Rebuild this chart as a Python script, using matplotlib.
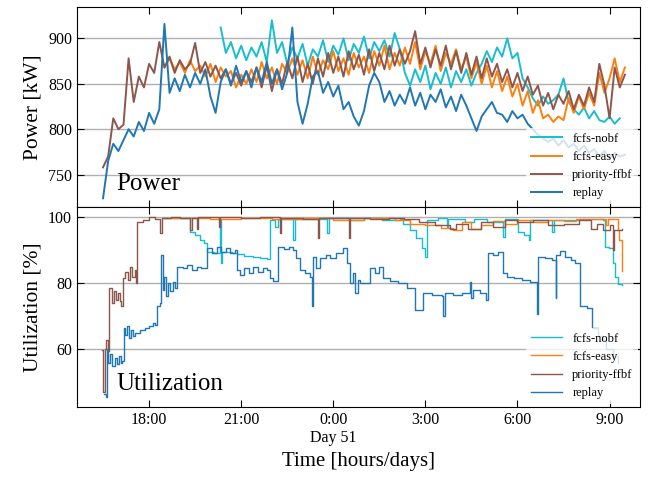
import numpy as np
import matplotlib
matplotlib.use("Agg")
import matplotlib.pyplot as plt

plt.rcParams['font.family'] = ['Liberation Serif', 'DejaVu Serif']

# time axis: hours relative to midnight of day 51, power sampled every 10 min
STEP = 1 / 6
T0_POWER = -7.5

# ---- power [kW] ----
priority_kw = [758, 770, 812, 800, 805, 878, 830, 858, 846, 872,
               862, 896, 868, 880, 862, 876, 866, 872, 895, 862,
               874, 858, 870, 856, 866, 850, 862, 848, 864, 852,
               868, 846, 870, 842, 866, 850, 874, 856, 880, 852,
               872, 850, 878, 858, 884, 862, 880, 858, 886, 866,
               882, 860, 888, 864, 884, 866, 892, 870, 888, 872,
               886, 908, 872, 890, 868, 888, 870, 892, 866, 886,
               862, 884, 860, 880, 856, 878, 858, 872, 852, 866,
               846, 862, 842, 858, 838, 848, 826, 840, 822, 838,
               828, 842, 822, 838, 826, 846, 830, 872, 848, 812,
               868, 846, 860]
easy_start = 12
easy_kw = [868, 878, 866, 874, 862, 876, 864, 870, 858, 872,
           852, 868, 858, 864, 846, 860, 850, 866, 852, 874,
           856, 868, 850, 872, 862, 878, 860, 876, 856, 880,
           860, 876, 866, 886, 864, 878, 860, 884, 868, 880,
           862, 886, 870, 892, 866, 884, 870, 890, 872, 896,
           866, 886, 872, 892, 864, 884, 872, 888, 866, 880,
           856, 874, 850, 870, 846, 864, 842, 858, 836, 850,
           826, 842, 818, 832, 812, 816, 808, 814, 810, 834,
           818, 836, 822, 840, 826, 862, 840, 856, 878, 852,
           868]
nobf_start = 23
nobf_kw = [912, 884, 896, 878, 892, 876, 890, 880, 896, 874,
           920, 884, 896, 872, 890, 878, 894, 870, 888, 880,
           898, 874, 892, 882, 900, 876, 894, 884, 902, 878,
           896, 886, 898, 880, 906, 888, 862, 848, 866, 852,
           870, 844, 862, 850, 868, 846, 864, 852, 866, 848,
           862, 872, 886, 874, 890, 880, 900, 878, 884, 856,
           846, 834, 826, 836, 828, 832, 838, 856, 830, 822,
           816, 824, 812, 820, 810, 808, 814, 806, 812]
replay_kw = [724, 765, 784, 776, 788, 800, 792, 808, 798, 818,
             806, 822, 916, 840, 856, 842, 860, 846, 862, 850,
             866, 836, 818, 852, 866, 848, 870, 852, 864, 846,
             868, 852, 874, 850, 866, 844, 862, 912, 830, 806,
             828, 858, 864, 840, 852, 836, 848, 822, 830, 814,
             804, 820, 848, 862, 852, 830, 842, 826, 838, 828,
             846, 826, 840, 822, 838, 830, 844, 824, 836, 820,
             838, 826, 812, 798, 814, 822, 830, 818, 816, 808,
             820, 812, 816, 806, 800, 794, 790, 786, 790, 782,
             788, 780, 784, 776, 782, 774, 778, 770, 776, 768,
             774, 770, 772]

# ---- utilization [%] (time in hours, value) ----
replay_util_t = [-7.47, -7.40, -7.37, -7.33, -7.27, -7.20, -7.12, -7.05, -6.98, -6.92,
                 -6.88, -6.82, -6.78, -6.72, -6.66, -6.60, -6.52, -6.46, -6.39, -6.29,
                 -6.13, -6.00, -5.88, -5.80, -5.74, -5.64, -5.60, -5.56, -5.50, -5.45,
                 -5.38, -5.31, -5.22, -5.15, -5.09, -4.90, -4.75, -4.60, -4.45, -4.30,
                 -4.11, -3.95, -3.80, -3.65, -3.50, -3.35, -3.20, -3.13, -3.03, -2.90,
                 -2.75, -2.60, -2.45, -2.30, -2.15, -2.05, -1.95, -1.79, -1.60, -1.45,
                 -1.30, -1.21, -1.08, -0.91, -0.75, -0.70, -0.65, -0.55, -0.42, -0.25,
                 -0.10, 0.10, 0.33, 0.46, 0.55, 0.65, 0.72, 0.80, 0.88, 1.21,
                 1.37, 1.50, 1.63, 1.86, 2.10, 2.41, 2.67, 2.93, 3.20, 3.55,
                 3.59, 3.65, 3.90, 4.20, 4.47, 4.50, 4.55, 4.79, 4.96, 5.05,
                 5.20, 5.35, 5.54, 5.67, 5.90, 6.16, 6.40, 6.65, 6.68, 6.91,
                 7.14, 7.24, 7.27, 7.40, 7.56, 7.73, 7.89, 8.05, 8.25, 8.44,
                 8.61, 8.77, 8.90, 9.10, 9.26]
replay_util = [46.5, 45.8, 60.0, 56.0, 58.5, 55.0, 57.5, 55.5, 58.0, 56.0,
               56.5, 66.5, 64.5, 67.0, 63.5, 66.0, 64.0, 65.0, 65.0, 66.0,
               66.5, 67.0, 68.0, 67.5, 73.0, 74.0, 88.5, 78.0, 82.0, 76.0,
               80.0, 77.5, 80.5, 78.5, 85.0, 84.5, 85.5, 84.0, 85.0, 84.5,
               90.5, 89.0, 91.0, 89.5, 90.5, 89.0, 90.0, 84.0, 82.5, 84.5,
               83.0, 85.0, 83.5, 84.5, 84.0, 81.5, 80.8, 90.8, 90.2, 91.0,
               90.0, 87.5, 84.0, 83.0, 82.0, 73.0, 88.0, 84.5, 87.5, 88.5,
               87.5, 89.0, 90.5, 86.0, 80.0, 83.0, 77.0, 81.0, 80.0, 84.5,
               83.0, 85.0, 81.5, 80.8, 80.0, 78.5, 72.0, 77.0, 76.5, 76.0,
               70.0, 77.0, 76.5, 77.0, 80.5, 75.5, 78.0, 77.0, 75.0, 89.0,
               88.5, 89.5, 83.0, 82.0, 81.5, 81.0, 80.5, 70.7, 88.0, 87.5,
               87.0, 75.5, 88.5, 89.6, 88.0, 87.0, 86.0, 73.0, 72.5, 66.5,
               64.0, 63.0, 60.0, 58.0, 56.0]

priority_util_t = [-7.53, -7.50, -7.45, -7.40, -7.33, -7.30, -7.22, -7.15, -7.08, -7.01,
                   -6.95, -6.90, -6.86, -6.80, -6.70, -6.62, -6.55, -6.46, -6.41, -6.39,
                   -6.20, -6.00, -5.80, -5.64, -5.58, -5.30, -5.00, -4.66, -4.60, -4.45,
                   -4.40, -3.72, -3.68, -3.00, -2.40, -1.75, -1.70, -1.00, -0.50, -0.45,
                   0.00, 0.50, 0.56, 1.20, 1.80, 2.30, 2.80, 3.30, 3.80, 4.00,
                   4.40, 4.80, 5.20, 5.60, 6.00, 6.50, 7.00, 7.50, 8.00, 8.40,
                   8.60, 8.80, 9.00, 9.10, 9.15, 9.42]
priority_util = [59.7, 47.2, 60.0, 63.0, 59.5, 78.5, 74.0, 77.5, 75.0, 77.0,
                 74.5, 73.0, 81.5, 83.5, 81.0, 85.0, 82.0, 84.0, 80.0, 98.5,
                 99.0, 100.0, 99.5, 95.0, 99.8, 100.0, 99.6, 96.0, 99.8, 96.5,
                 100.0, 97.0, 100.0, 99.6, 100.0, 95.0, 99.8, 99.5, 93.5, 99.8,
                 99.6, 93.5, 99.8, 99.5, 99.8, 99.3, 98.5, 97.5, 96.5, 98.0,
                 96.5, 98.5, 97.0, 99.0, 98.5, 99.0, 97.5, 98.0, 99.0, 96.5,
                 98.0, 96.0, 97.5, 90.0, 96.0, 96.5]

easy_util_t = [-5.50, -4.00, -3.00, -2.00, -1.00, 0.00, 1.00, 2.00, 2.50, 3.00,
               3.50, 3.90, 4.20, 4.50, 4.80, 5.20, 5.60, 6.00, 6.50, 7.00,
               7.50, 7.90, 8.50, 8.90, 8.95, 9.20, 9.26, 9.30, 9.42]
easy_util = [99.8, 99.5, 99.8, 99.3, 99.7, 99.2, 99.6, 99.0, 98.0, 97.5,
             96.8, 96.0, 98.5, 96.5, 97.5, 98.8, 98.0, 99.0, 98.5, 99.0,
             98.8, 99.4, 99.4, 97.5, 99.4, 99.4, 96.0, 93.0, 83.6]

nobf_util_t = [-5.50, -4.80, -4.66, -4.50, -4.35, -4.21, -4.11, -3.90, -3.70, -3.66,
               -3.62, -3.30, -3.13, -2.90, -2.60, -2.38, -2.15, -2.05, -1.90, -1.80,
               -1.30, -1.25, -0.50, -0.20, -0.15, 0.50, 1.00, 1.60, 2.18, 2.28,
               2.50, 2.70, 2.90, 3.00, 3.06, 3.40, 3.70, 3.75, 4.30, 4.60,
               5.00, 5.54, 5.60, 6.03, 6.20, 6.36, 6.40, 7.00, 7.14, 7.20,
               8.00, 8.77, 8.85, 8.97, 9.10, 9.19, 9.26, 9.42]
nobf_util = [99.8, 99.6, 95.5, 94.5, 93.0, 92.0, 89.5, 89.0, 99.0, 86.0,
             89.5, 89.0, 88.8, 88.3, 88.0, 87.5, 87.2, 99.0, 97.0, 99.5,
             93.0, 99.5, 99.3, 95.0, 99.6, 99.2, 99.6, 99.0, 99.5, 98.0,
             96.0, 93.5, 90.5, 88.0, 99.2, 99.6, 97.0, 99.4, 98.5, 99.5,
             98.5, 94.0, 99.5, 95.5, 94.5, 93.0, 99.0, 99.2, 95.5, 99.0,
             99.4, 99.2, 91.0, 90.5, 86.0, 82.0, 79.7, 79.5]

labels = ['fcfs-nobf', 'fcfs-easy', 'priority-ffbf', 'replay']
colors = ['tab:cyan', 'tab:orange', 'tab:brown', 'tab:blue']
xticks = [-6, -3, 0, 3, 6, 9]
xticklabels = ['18:00', '21:00', '0:00\nDay 51', '3:00', '6:00', '9:00']


def power_times(start_idx, n):
    return T0_POWER + (start_idx + np.arange(n)) * STEP


fig, (ax1, ax2) = plt.subplots(2, 1, sharex=True, figsize=(6.52, 4.78), dpi=100)
fig.subplots_adjust(left=0.118, right=0.982, top=0.985, bottom=0.149, hspace=0)

# power panel
ax1.plot(power_times(nobf_start, len(nobf_kw)), nobf_kw, color=colors[0], lw=1.4, label=labels[0])
ax1.plot(power_times(easy_start, len(easy_kw)), easy_kw, color=colors[1], lw=1.4, label=labels[1])
ax1.plot(power_times(0, len(priority_kw)), priority_kw, color=colors[2], lw=1.4, label=labels[2])
ax1.plot(power_times(0, len(replay_kw)), replay_kw, color=colors[3], lw=1.4, label=labels[3])

# utilization panel
ax2.plot(nobf_util_t, nobf_util, color=colors[0], lw=1.0, drawstyle='steps-post', label=labels[0])
ax2.plot(easy_util_t, easy_util, color=colors[1], lw=1.0, drawstyle='steps-post', label=labels[1])
ax2.plot(priority_util_t, priority_util, color=colors[2], lw=1.0, drawstyle='steps-post', label=labels[2])
ax2.plot(replay_util_t, replay_util, color=colors[3], lw=1.0, drawstyle='steps-post', label=labels[3])

ax1.set_ylim(714.4, 934.4)
ax1.set_yticks([750, 800, 850, 900])
ax2.set_ylim(42.7, 103.0)
ax2.set_yticks([60, 80, 100])
ax2.set_xlim(-8.35, 10.0)
ax2.set_xticks(xticks)
ax2.set_xticklabels(xticklabels)

ax1.set_ylabel('Power [kW]', fontsize=15.5)
ax2.set_ylabel('Utilization [%]', fontsize=15.5)
ax2.set_xlabel('Time [hours/days]', fontsize=15)

ax1.text(0.07, 0.085, 'Power', transform=ax1.transAxes, fontsize=18)
ax2.text(0.07, 0.085, 'Utilization', transform=ax2.transAxes, fontsize=18)

for ax in (ax1, ax2):
    ax.grid(axis='y', color='#b0b0b0', lw=1.0)
    ax.set_axisbelow(True)
    ax.tick_params(direction='in', top=True, right=True, labelsize=11.5, length=5)
    leg = ax.legend(loc='lower right', fontsize=9, frameon=True, framealpha=0.8,
                    edgecolor='none', borderaxespad=0.2, handlelength=2.5)
    leg.get_frame().set_linewidth(0)

fig.align_ylabels([ax1, ax2])
fig.savefig('out.png', dpi=100)
